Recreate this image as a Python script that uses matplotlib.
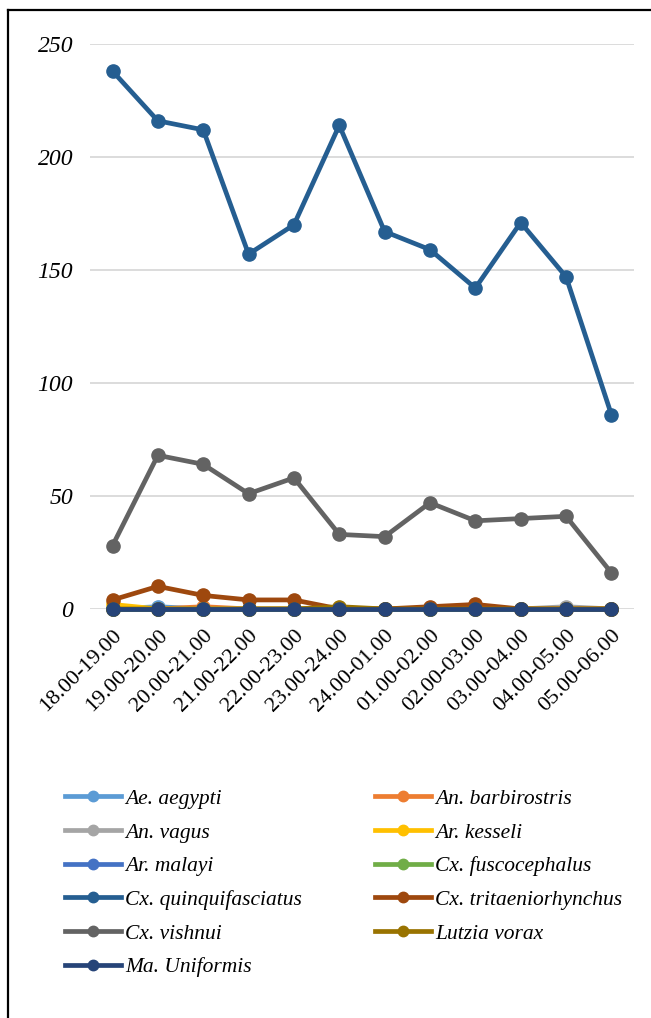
import matplotlib
matplotlib.use("Agg")
import matplotlib.pyplot as plt
from matplotlib.lines import Line2D

time_slots = ["18.00-19.00", "19.00-20.00", "20.00-21.00", "21.00-22.00",
              "22.00-23.00", "23.00-24.00", "24.00-01.00", "01.00-02.00",
              "02.00-03.00", "03.00-04.00", "04.00-05.00", "05.00-06.00"]

ae_aegypti          = [0, 1, 0, 0, 0, 0, 0, 0, 0, 0, 0, 0]
an_barbirostris     = [0, 0, 1, 0, 0, 0, 0, 0, 0, 0, 0, 0]
an_vagus            = [0, 0, 0, 0, 0, 0, 0, 0, 0, 0, 1, 0]
ar_kesseli          = [2, 0, 0, 0, 0, 0, 0, 0, 0, 0, 0, 0]
ar_malayi           = [0, 0, 0, 0, 0, 0, 0, 0, 0, 0, 0, 0]
cx_fuscocephalus    = [0, 0, 0, 0, 0, 0, 0, 0, 0, 0, 0, 0]
cx_quinquifasciatus = [238, 216, 212, 157, 170, 214, 167, 159, 142, 171, 147, 86]
cx_tritaeniorhynchus = [4, 10, 6, 4, 4, 0, 0, 1, 2, 0, 0, 0]
cx_vishnui          = [28, 68, 64, 51, 58, 33, 32, 47, 39, 40, 41, 16]
lutzia_vorax        = [0, 0, 0, 0, 0, 1, 0, 0, 0, 0, 0, 0]
ma_uniformis        = [0, 0, 0, 0, 0, 0, 0, 0, 0, 0, 0, 0]

series = [
    ("Ae. aegypti", ae_aegypti, "#5B9BD5"),
    ("An. barbirostris", an_barbirostris, "#ED7D31"),
    ("An. vagus", an_vagus, "#A5A5A5"),
    ("Ar. kesseli", ar_kesseli, "#FFC000"),
    ("Ar. malayi", ar_malayi, "#4472C4"),
    ("Cx. fuscocephalus", cx_fuscocephalus, "#70AD47"),
    ("Cx. quinquifasciatus", cx_quinquifasciatus, "#255E91"),
    ("Cx. tritaeniorhynchus", cx_tritaeniorhynchus, "#9E480E"),
    ("Cx. vishnui", cx_vishnui, "#636363"),
    ("Lutzia vorax", lutzia_vorax, "#997300"),
    ("Ma. Uniformis", ma_uniformis, "#264478"),
]

plt.rcParams['font.family'] = ['Liberation Serif', 'DejaVu Serif']

fig = plt.figure(figsize=(6.51, 10.18), dpi=100)
ax = fig.add_axes([0.138, 0.4018, 0.836, 0.555])

x = list(range(len(time_slots)))
for name, vals, col in series:
    ax.plot(x, vals, color=col, lw=3.4, marker='o', ms=9.5,
            solid_capstyle='round', clip_on=False, label=name, zorder=3)

ax.set_xlim(-0.5, len(time_slots) - 0.5)
ax.set_ylim(0, 250)
ax.set_yticks([0, 50, 100, 150, 200, 250])
ax.set_yticklabels(["0", "50", "100", "150", "200", "250"], fontstyle='italic', fontsize=17)
ax.grid(axis='y', color='#D9D9D9', lw=1.3, zorder=0)
ax.set_axisbelow(True)
for s in ax.spines.values():
    s.set_visible(False)
ax.tick_params(axis='both', length=0)
ax.tick_params(axis='y', pad=12)
ax.set_xticks(x)
ax.set_xticklabels(time_slots, rotation=45, ha='right', rotation_mode='anchor', fontsize=16)
ax.tick_params(axis='x', pad=12)

order = [0, 2, 4, 6, 8, 10, 1, 3, 5, 7, 9]
leg_handles = [Line2D([0], [0], color=series[i][2], lw=3.4, marker='o', ms=7.5)
               for i in order]
leg_labels = [series[i][0] for i in order]
fig.legend(leg_handles, leg_labels, ncol=2, loc='upper left',
           bbox_to_anchor=(0.086, 0.2335), frameon=False,
           prop={'style': 'italic', 'size': 15.5}, handlelength=2.6,
           handletextpad=0.2, labelspacing=0.63, columnspacing=3.4,
           borderaxespad=0)

# frame lines (left and top)
fig.add_artist(Line2D([0.0123, 0.0123], [0.0, 0.9902], color='black', lw=1.6,
                      transform=fig.transFigure))
fig.add_artist(Line2D([0.0123, 1.0], [0.9902, 0.9902], color='black', lw=1.6,
                      transform=fig.transFigure))

fig.savefig("out.png", dpi=100)
